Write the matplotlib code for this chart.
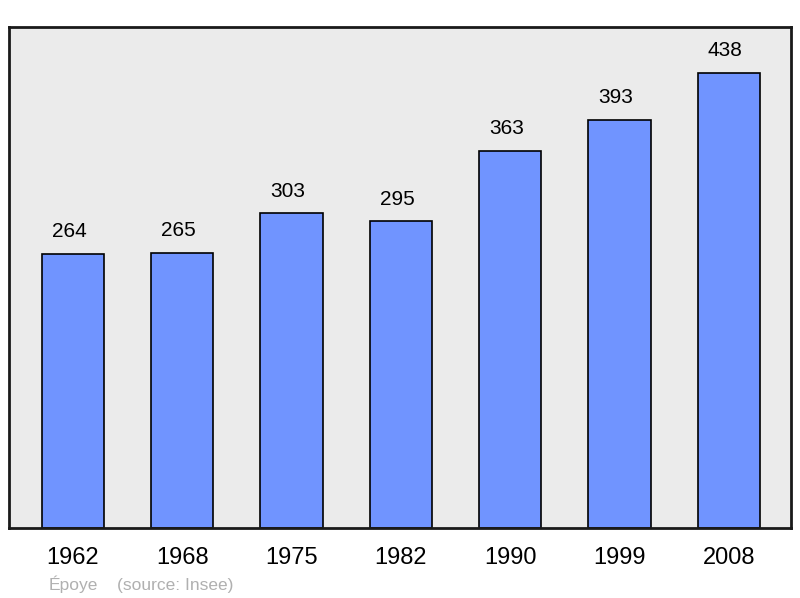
import matplotlib.pyplot as plt

# data
years = ['1962', '1968', '1975', '1982', '1990', '1999', '2008']
population = [264, 265, 303, 295, 363, 393, 438]

plt.rcParams['font.family'] = ['Liberation Sans', 'DejaVu Sans']

fig = plt.figure(figsize=(8, 5.98), dpi=100)
ax = fig.add_axes([0.01125, 0.117, 0.9775, 0.8378])
ax.set_facecolor('#ebebeb')

x = list(range(len(years)))
ax.bar(x, population, width=0.57, color='#7094ff', edgecolor='black', linewidth=1.2, zorder=2)

# valeurs au-dessus des barres
for i, v in zip(x, population):
    ax.text(i - 0.035, v + 12, str(v), ha='center', va='bottom', fontsize=15, color='black')

ax.set_xlim(-0.585, 6.57)
ax.set_ylim(0, 482)
ax.set_xticks(x)
ax.set_xticklabels(years, fontsize=17)
ax.set_yticks([])
ax.tick_params(axis='x', length=0, pad=14)
for s in ax.spines.values():
    s.set_linewidth(2)
    s.set_color('#1a1a1a')

fig.text(0.061, 0.014, 'Époye', fontsize=12.5, color='#b0b0b0')
fig.text(0.146, 0.014, '(source: Insee)', fontsize=12.5, color='#b0b0b0')

fig.savefig('out.png', dpi=100)
